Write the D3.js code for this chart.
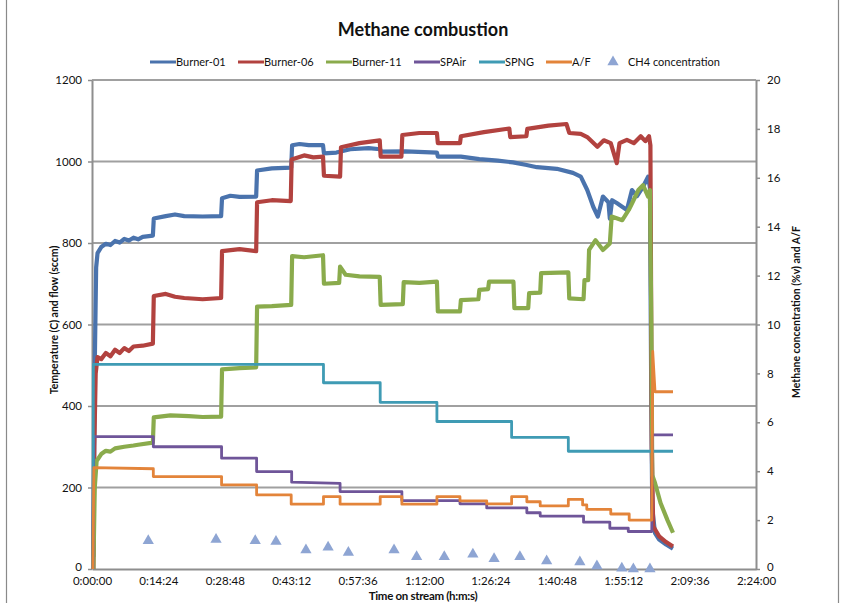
<!DOCTYPE html>
<html>
<head>
<meta charset="utf-8">
<script src="https://cdn.jsdelivr.net/npm/d3@7"></script>
<style>
  html, body { margin: 0; padding: 0; background: #fff; }
  svg { display: block; font-family: Lato, "Open Sans", "Liberation Sans", sans-serif; }
</style>
</head>
<body>
<svg id="chart" width="847" height="603"></svg>
<script>
// Time on stream in minutes; temperatures in °C, flows in sccm, CH4 in %v.
const burner01 = [[0.3,30],[0.6,500],[0.9,740],[1.2,775],[2,790],[3,798],[4,795],[5,805],[6,801],[7,810],[8,806],[9,813],[10,809],[11,815],[13.2,818],[13.4,860],[16,866],[18,870],[20,866],[24,865],[28,866],[28.2,910],[30,916],[32,913],[35.6,914],[35.8,978],[39,983],[43.2,985],[43.4,1040],[45,1043],[47,1040],[50.1,1040],[50.3,1020],[53,1022],[56,1030],[60,1033],[62.5,1030],[62.7,1024],[68,1025],[74.8,1022],[75,1012],[80,1012],[84,1006],[88,1002],[91.3,998],[94,992],[96.5,986],[100.8,982],[104.3,972],[106,963],[107.4,930],[108.2,905],[108.7,889],[109.7,865],[110.8,914],[112,900],[112.3,860],[112.8,905],[113.8,898],[116,881],[117.1,930],[118.2,915],[119.5,938],[120.6,963],[121,935],[121.3,400],[121.5,150],[122.1,88],[123,72],[124.5,60],[126,50]];
const burner06 = [[0.3,0],[0.5,300],[0.8,480],[1.2,520],[2,515],[3,530],[4,522],[5,538],[6,530],[7,542],[8,535],[9,546],[11,548],[13.2,553],[13.4,670],[16,675],[18,668],[20,665],[24,662],[28,665],[28.2,780],[32,785],[35.6,780],[35.8,900],[39,905],[43.1,903],[43.3,1005],[46,1015],[48,1010],[50.1,1012],[50.3,965],[53.8,963],[54,1035],[58,1045],[62.4,1052],[62.6,1012],[67.1,1012],[67.3,1065],[71,1070],[74.8,1070],[75,1045],[79.8,1045],[80,1062],[85,1072],[90.5,1081],[90.7,1060],[94.2,1062],[94.4,1080],[99,1088],[102.9,1092],[103.5,1070],[106,1068],[107.4,1060],[109.6,1036],[111,1052],[112.5,1045],[113.8,996],[114.4,1045],[116,1053],[117.5,1045],[119,1062],[120,1050],[120.8,1062],[121.1,1040],[121.4,300],[121.7,105],[123,80],[124.5,66],[126,55]];
const burner11 = [[0.3,0],[0.6,200],[1,265],[2,282],[3,290],[4,288],[5,296],[7,300],[9,303],[10,305],[13.2,310],[13.4,372],[17,377],[21,375],[24,373],[28,374],[28.2,490],[32,493],[35.6,495],[35.8,644],[39,645],[43.2,648],[43.4,768],[46,765],[50.1,770],[50.3,700],[53.6,702],[53.8,742],[55,722],[58,718],[62.4,717],[62.6,648],[67.4,650],[67.6,704],[71,702],[74.8,705],[75,632],[79.8,632],[80,660],[83.8,662],[84,685],[85.9,687],[86.1,705],[91.4,705],[91.6,640],[94.6,640],[94.8,677],[97.2,678],[97.4,726],[103.3,728],[103.5,664],[106.6,662],[106.8,709],[107.6,709],[107.8,783],[109.2,807],[110.8,783],[112.3,799],[112.7,865],[115,856],[116.4,881],[117.1,897],[118.5,930],[119.5,942],[120.6,914],[121,930],[121.3,600],[121.5,230],[122.1,211],[123.3,162],[124.8,120],[126,89]];
const spAir = [[0.2,0],[0.4,325],[13.3,325],[13.3,300],[28.1,300],[28.1,272],[35.7,272],[35.7,239],[43.3,239],[43.3,213],[53.8,210],[53.8,190],[67.2,190],[67.2,168],[79.8,168],[79.8,160],[85.6,160],[85.6,150],[94.3,150],[94.3,138],[97.2,138],[97.2,130],[106.6,130],[106.6,115],[112.3,115],[112.3,100],[116.3,100],[116.3,92],[121.4,92],[121.5,329],[126,329]];
const spng = [[0.2,0],[0.3,502],[50.2,502],[50.2,457],[62.5,457],[62.5,409],[74.8,409],[74.8,362],[91,362],[91,323],[103.3,323],[103.3,289],[126,289]];
const airFuel = [[0.2,0],[0.4,4.15],[13.3,4.1],[13.3,3.78],[28.1,3.78],[28.1,3.44],[35.7,3.44],[35.7,3.03],[43.2,3.03],[43.2,2.65],[50.2,2.65],[50.2,2.96],[53.8,2.96],[53.8,2.65],[62.5,2.65],[62.5,2.96],[67.2,2.96],[67.2,2.65],[74.8,2.65],[74.8,2.96],[79.8,2.96],[79.8,2.79],[85.6,2.79],[85.6,2.66],[91,2.66],[91,2.96],[94.3,2.96],[94.3,2.75],[97.2,2.75],[97.2,2.58],[103.3,2.58],[103.3,2.85],[106.4,2.85],[106.4,2.62],[107.3,2.62],[107.3,2.44],[112.5,2.44],[112.5,2.25],[116.5,2.25],[116.5,2.0],[121.4,2.0],[121.6,8.9],[122.1,7.25],[126,7.25]];
const ch4Time = [12.2,26.9,35.4,39.9,46.4,51.2,55.6,65.5,70.4,76.4,82.6,87.2,92.8,98.6,105.8,109.5,114.9,117.4,121.0];
const ch4Conc = [1.16,1.21,1.16,1.12,0.78,0.89,0.67,0.78,0.50,0.50,0.60,0.42,0.50,0.33,0.29,0.12,0.03,0.0,0.0];

const leftTicks = [0,200,400,600,800,1000,1200];
const rightTicks = [0,2,4,6,8,10,12,14,16,18,20];
const timeTicks = [0,14.4,28.8,43.2,57.6,72,86.4,100.8,115.2,129.6,144];

const seriesNames = ["Burner-01","Burner-06","Burner-11","SPAir","SPNG","A/F","CH4 concentration"];
const seriesColors = ["#4a73ad","#b2423f","#8aab4c","#6f5599","#3f9bb4","#e3843a","#8ea5d3"];

const svg = d3.select("#chart");
const W = 847, H = 603;
const m = {left: 92, right: 756, top: 80, bottom: 569};

const x = d3.scaleLinear().domain([0,144]).range([m.left, m.right]);
const yL = d3.scaleLinear().domain([0,1200]).range([m.bottom, m.top]);
const yR = d3.scaleLinear().domain([0,20]).range([m.bottom, m.top]);

// outer chart frame
svg.append("line").attr("x1",6.5).attr("x2",6.5).attr("y1",0).attr("y2",H).attr("stroke","#8a8a8a").attr("stroke-width",1.2);
svg.append("line").attr("x1",838.5).attr("x2",838.5).attr("y1",0).attr("y2",H).attr("stroke","#8a8a8a").attr("stroke-width",1.2);

// title
svg.append("text").attr("x",423).attr("y",36).attr("text-anchor","middle")
  .attr("font-size",18).attr("font-weight","bold").attr("fill","#111").text("Methane combustion");

// horizontal gridlines
svg.append("g").selectAll("line").data(leftTicks.filter(d => d > 0)).join("line")
  .attr("x1", m.left).attr("x2", m.right)
  .attr("y1", d => yL(d)).attr("y2", d => yL(d))
  .attr("stroke","#a0a0a0").attr("stroke-width",2);

const fmtTime = mins => {
  const s = Math.round(mins*60);
  const h = Math.floor(s/3600), mm = Math.floor((s%3600)/60), ss = s%60;
  return h + ":" + String(mm).padStart(2,"0") + ":" + String(ss).padStart(2,"0");
};

// axes
const axL = svg.append("g").attr("transform",`translate(${m.left},0)`)
  .call(d3.axisLeft(yL).tickValues(leftTicks).tickFormat(d3.format("d")).tickSize(4).tickSizeOuter(0).tickPadding(6));
const axR = svg.append("g").attr("transform",`translate(${m.right},0)`)
  .call(d3.axisRight(yR).tickValues(rightTicks).tickFormat(d3.format("d")).tickSize(4).tickSizeOuter(0).tickPadding(7));
const axB = svg.append("g").attr("transform",`translate(0,${m.bottom})`)
  .call(d3.axisBottom(x).tickValues(timeTicks).tickFormat(fmtTime).tickSize(0).tickSizeOuter(0).tickPadding(8));
[axL, axR, axB].forEach(g => {
  g.select(".domain").attr("stroke","#8e8e8e").attr("stroke-width",2);
  g.selectAll(".tick line").attr("stroke","#8e8e8e").attr("stroke-width",1.5);
  g.selectAll(".tick text").attr("font-size",11.5).attr("fill","#111")
    .attr("font-family","Lato, 'Open Sans', sans-serif");
});
// the two "0" labels sit a little above the time labels
axL.selectAll(".tick").filter(d => d === 0).select("text").attr("dy","0.1em");
axR.selectAll(".tick").filter(d => d === 0).select("text").attr("dy","0.1em");

// axis titles
svg.append("text").attr("transform","translate(58,320) rotate(-90)")
  .attr("text-anchor","middle").attr("font-size",10.5).attr("font-weight","bold").attr("fill","#111")
  .text("Temperature (C) and flow (sccm)");
svg.append("text").attr("transform","translate(800,312) rotate(-90)")
  .attr("text-anchor","middle").attr("font-size",10.5).attr("font-weight","bold").attr("fill","#111")
  .text("Methane concentration (%v) and A/F");
svg.append("text").attr("x",423).attr("y",600).attr("text-anchor","middle")
  .attr("font-size",11.5).attr("font-weight","bold").attr("fill","#111").attr("letter-spacing","-0.3")
  .text("Time on stream (h:m:s)");

// series lines
const lineL = d3.line().x(d => x(d[0])).y(d => yL(d[1]));
const lineR = d3.line().x(d => x(d[0])).y(d => yR(d[1]));
const plot = svg.append("g");
const leftSeries = [burner01, burner06, burner11, spAir, spng];
const widths = [4.2,4.2,4.2,2.8,2.8];
leftSeries.forEach((s,i) => {
  plot.append("path").datum(s).attr("d", lineL)
    .attr("fill","none").attr("stroke", seriesColors[i]).attr("stroke-width", widths[i])
    .attr("stroke-linejoin","round");
});
plot.append("path").datum(airFuel).attr("d", lineR)
  .attr("fill","none").attr("stroke", seriesColors[5]).attr("stroke-width",2.8).attr("stroke-linejoin","round");

// CH4 concentration markers
const tri = d3.symbol().type(d3.symbolTriangle).size(55);
plot.append("g").selectAll("path").data(ch4Time.map((t,i) => [t, ch4Conc[i]])).join("path")
  .attr("d", tri)
  .attr("transform", d => `translate(${x(d[0])},${yR(d[1])})`)
  .attr("fill", seriesColors[6]);

// legend
const legendX = [150, 238, 326, 414, 479, 546, 606];
const leg = svg.append("g").attr("font-size",11).attr("fill","#111");
seriesNames.forEach((name,i) => {
  const gx = legendX[i], gy = 62;
  if (i < 6) {
    leg.append("line").attr("x1",gx).attr("x2",gx+26).attr("y1",gy).attr("y2",gy)
      .attr("stroke",seriesColors[i]).attr("stroke-width",3);
    leg.append("text").attr("x",gx+26).attr("y",gy+4).text(name);
  } else {
    leg.append("path").attr("d",tri).attr("transform",`translate(${gx+7},${gy})`).attr("fill",seriesColors[i]);
    leg.append("text").attr("x",gx+22).attr("y",gy+4).text(name);
  }
});
</script>
</body>
</html>
